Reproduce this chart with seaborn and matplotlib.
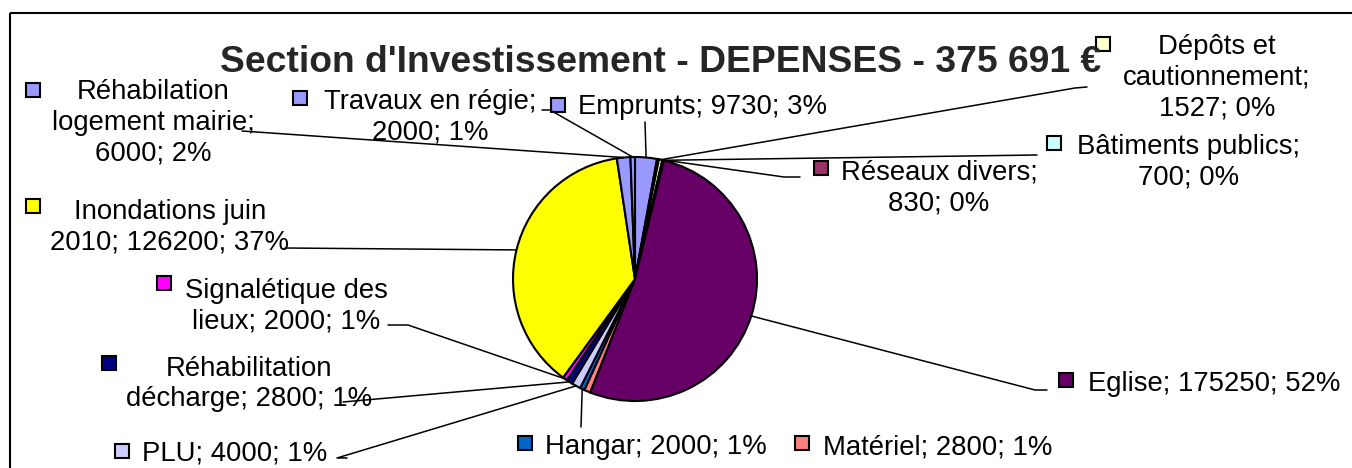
import textwrap
import numpy as np
import matplotlib
matplotlib.use("Agg")
import matplotlib.pyplot as plt
from matplotlib.patches import Rectangle
import seaborn as sns

# data, in the order Excel draws the slices (clockwise from 12 o'clock)
categories = ["Emprunts", "Réseaux divers", "Dépôts et cautionnement", "Bâtiments publics",
              "Eglise", "Matériel", "Hangar", "PLU", "Réhabilitation décharge",
              "Signalétique des lieux", "Inondations juin 2010",
              "Réhabilation logement mairie", "Travaux en régie"]
values = [9730, 830, 1527, 700, 175250, 2800, 2000, 4000, 2800, 2000, 126200, 6000, 2000]
percents = [3, 0, 0, 0, 52, 1, 1, 1, 1, 1, 37, 2, 1]
slice_colors = ["#9999FF", "#993366", "#FFFFCC", "#CCFFFF", "#660066", "#FF8080", "#0066CC",
                "#CCCCFF", "#000080", "#FF00FF", "#FFFF00", "#9999FF", "#9999FF"]
title = "Section d'Investissement - DEPENSES - 375 691 €"

# layout (pixel positions, y downwards)
pie_center = (635, 279)
pie_radius = 122
label_layout = {
    # name: (text centre, marker, wrap width, leader points from label towards pie)
    "Emprunts": ((703, 107), (558, 105), 40, [(645, 122)]),
    "Réseaux divers": ((939, 188), (821, 168), 15, [(800, 177), (784, 177)]),
    "Dépôts et cautionnement": ((1217, 78), (1103, 44), 14, [(1087, 87), (1075, 88)]),
    "Bâtiments publics": ((1189, 162), (1054, 143), 18, [(1037, 155)]),
    "Eglise": ((1214, 384), (1066, 380), 40, [(1047, 390), (1035, 390)]),
    "Matériel": ((938, 447), (802, 443), 40, []),
    "Hangar": ((656, 447), (525, 443), 40, [(581, 427)]),
    "PLU": ((235, 453), (122, 451), 40, [(347, 458), (337, 458)]),
    "Réhabilitation décharge": ((249, 384), (109, 363), 18, [(343, 402)]),
    "Signalétique des lieux": ((286, 306), (164, 283), 16, [(388, 325), (408, 325)]),
    "Inondations juin 2010": ((170, 227), (33, 206), 17, [(285, 248)]),
    "Réhabilation logement mairie": ((153, 123), (33, 90), 16, [(242, 131)]),
    "Travaux en régie": ((430, 117), (300, 98), 17, [(542, 110), (550, 110)]),
}

sns.set_theme(style="white")
plt.rcParams['font.family'] = ['Liberation Sans', 'DejaVu Sans']
palette = sns.color_palette(slice_colors)

fig = plt.figure(figsize=(13.52, 4.68), dpi=100)
ax = fig.add_axes([0, 0, 1, 1])

wedges, _ = ax.pie(values, colors=palette, startangle=270, counterclock=True,
                   center=pie_center, radius=pie_radius, frame=True,
                   wedgeprops=dict(edgecolor='black', linewidth=1.5))
ax.set_xlim(0, 1352)
ax.set_ylim(468, 0)
ax.set_aspect('equal')
ax.axis('off')

ax.add_patch(Rectangle((10, 13), 1400, 500, fill=False, edgecolor='black', linewidth=1.5))

for w, name, val, pct, col in zip(wedges, categories, values, percents, palette):
    (tx, ty), (mx, my), wrap, leader = label_layout[name]
    text = textwrap.fill(f"{name}; {val}; {pct}%", wrap)
    ax.text(tx, ty, text, ha='center', va='center', multialignment='center',
            fontsize=19.8, color='black', linespacing=1.24)
    ax.plot(mx, my, marker='s', markersize=10, markerfacecolor=col,
            markeredgecolor='black', markeredgewidth=1.5)
    if leader:
        mid = np.deg2rad((w.theta1 + w.theta2) / 2)
        edge = (pie_center[0] + pie_radius * np.cos(mid), pie_center[1] + pie_radius * np.sin(mid))
        pts = leader + [edge]
        ax.plot([p[0] for p in pts], [p[1] for p in pts], color='black', linewidth=1.1)

ax.text(661, 72, title, ha='center', va='baseline', fontsize=26.8, fontweight='bold')

fig.savefig('out.png', dpi=100)
